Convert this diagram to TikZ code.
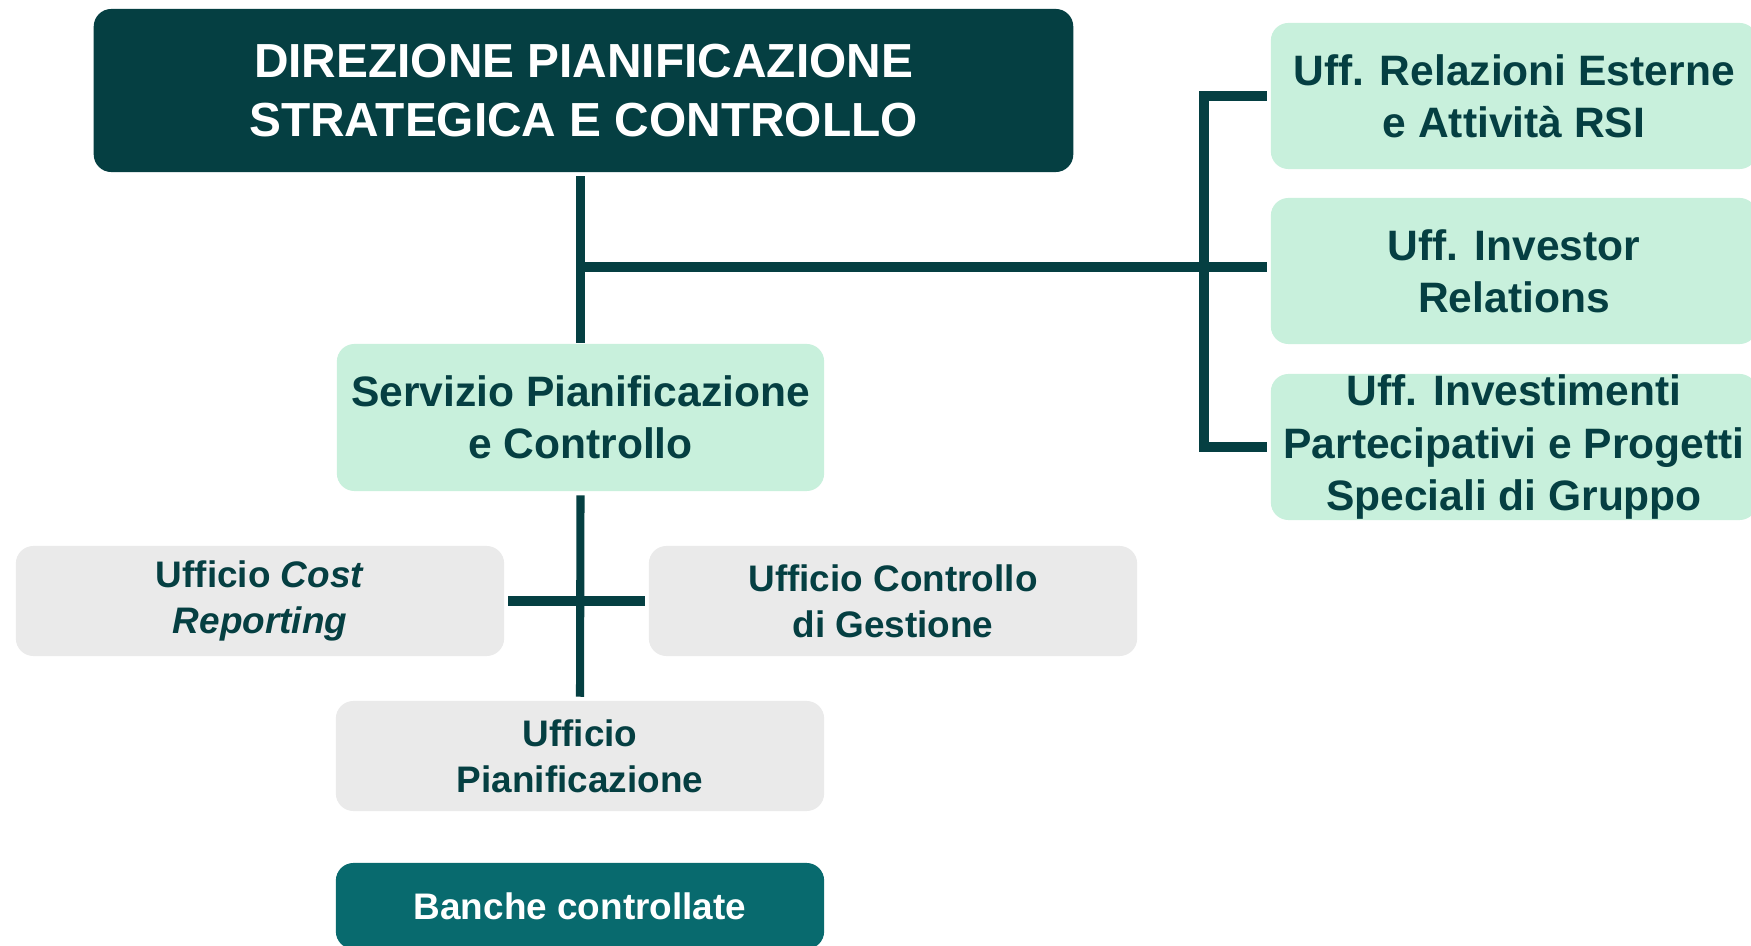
\documentclass[tikz,border=0pt]{standalone}
\usepackage{fontspec}
\setmainfont{Liberation Sans}
\definecolor{dirteal}{HTML}{053F42}
\definecolor{mint}{HTML}{C8F0DC}
\definecolor{paleg}{HTML}{EAEAEA}
\definecolor{bankteal}{HTML}{086A6E}

\begin{document}
\begin{tikzpicture}[x=0.01cm,y=-0.01cm,
  box/.style={rounded corners=5pt, inner sep=0pt, align=center, font=\bfseries},
  head/.style={box, fill=dirteal, text=white, minimum width=9.79cm, minimum height=1.63cm,
    font=\bfseries\fontsize{13.6}{16.8}\selectfont},
  green/.style={box, fill=mint, text=dirteal, minimum width=4.87cm, minimum height=1.47cm,
    font=\bfseries\fontsize{12.1}{14.8}\selectfont},
  grey/.style={box, fill=paleg, text=dirteal, minimum width=4.88cm, minimum height=1.10cm,
    font=\bfseries\fontsize{10.5}{13.1}\selectfont},
  link/.style={draw=dirteal, line width=2.6pt}]
\fill[white] (0,0) rectangle (1751,946);
\useasboundingbox (0,0) rectangle (1751,946);

\node[head] (dir) at (583.5,90.5) {DIREZIONE PIANIFICAZIONE\\STRATEGICA E CONTROLLO};

% uffici di staff
\node[green, minimum width=4.86cm, minimum height=1.46cm] (rel) at (1514,96) {Uff. Relazioni Esterne\\e Attività RSI};
\node[green, minimum width=4.86cm, minimum height=1.46cm] (inv) at (1514,271) {Uff. Investor\\Relations};
\node[green, minimum width=4.86cm, minimum height=1.46cm] (ipg) at (1514,447) {Uff. Investimenti\\Partecipativi e Progetti\\Speciali di Gruppo};

\node[green] (spc) at (580.5,417.5) {Servizio Pianificazione\\e Controllo};

\node[grey] (cost) at (260,601) {Ufficio \textit{Cost}\\\textit{Reporting}};
\node[grey] (cdg) at (893,601) {Ufficio Controllo\\di Gestione};
\node[grey] (pian) at (580,756) {Ufficio\\Pianificazione};

\node[box, fill=bankteal, text=white, minimum width=4.88cm, minimum height=0.86cm,
  font=\bfseries\fontsize{10.5}{13.1}\selectfont] (bank) at (580,906) {Banche controllate};

\coordinate (brk) at (1204,0);
\coordinate (trunk) at (580.5,0);
\coordinate (staff) at (0,267);

\draw[link, shorten <=1pt] (dir.south -| trunk) -- (spc.north -| trunk);
\draw[link, shorten >=1pt] (staff -| trunk) -- (staff -| inv.west);
\draw[link, shorten <=1pt, shorten >=1pt] (rel.west) -- (rel.west -| brk) -- (ipg.west -| brk) -- (ipg.west);
\draw[link, line width=2.3pt, shorten <=1pt, shorten >=1pt] (spc.south) -- (pian.north);
\draw[link, shorten <=1pt, shorten >=1pt] (cost.east) -- (cdg.west);
\end{tikzpicture}
\end{document}
